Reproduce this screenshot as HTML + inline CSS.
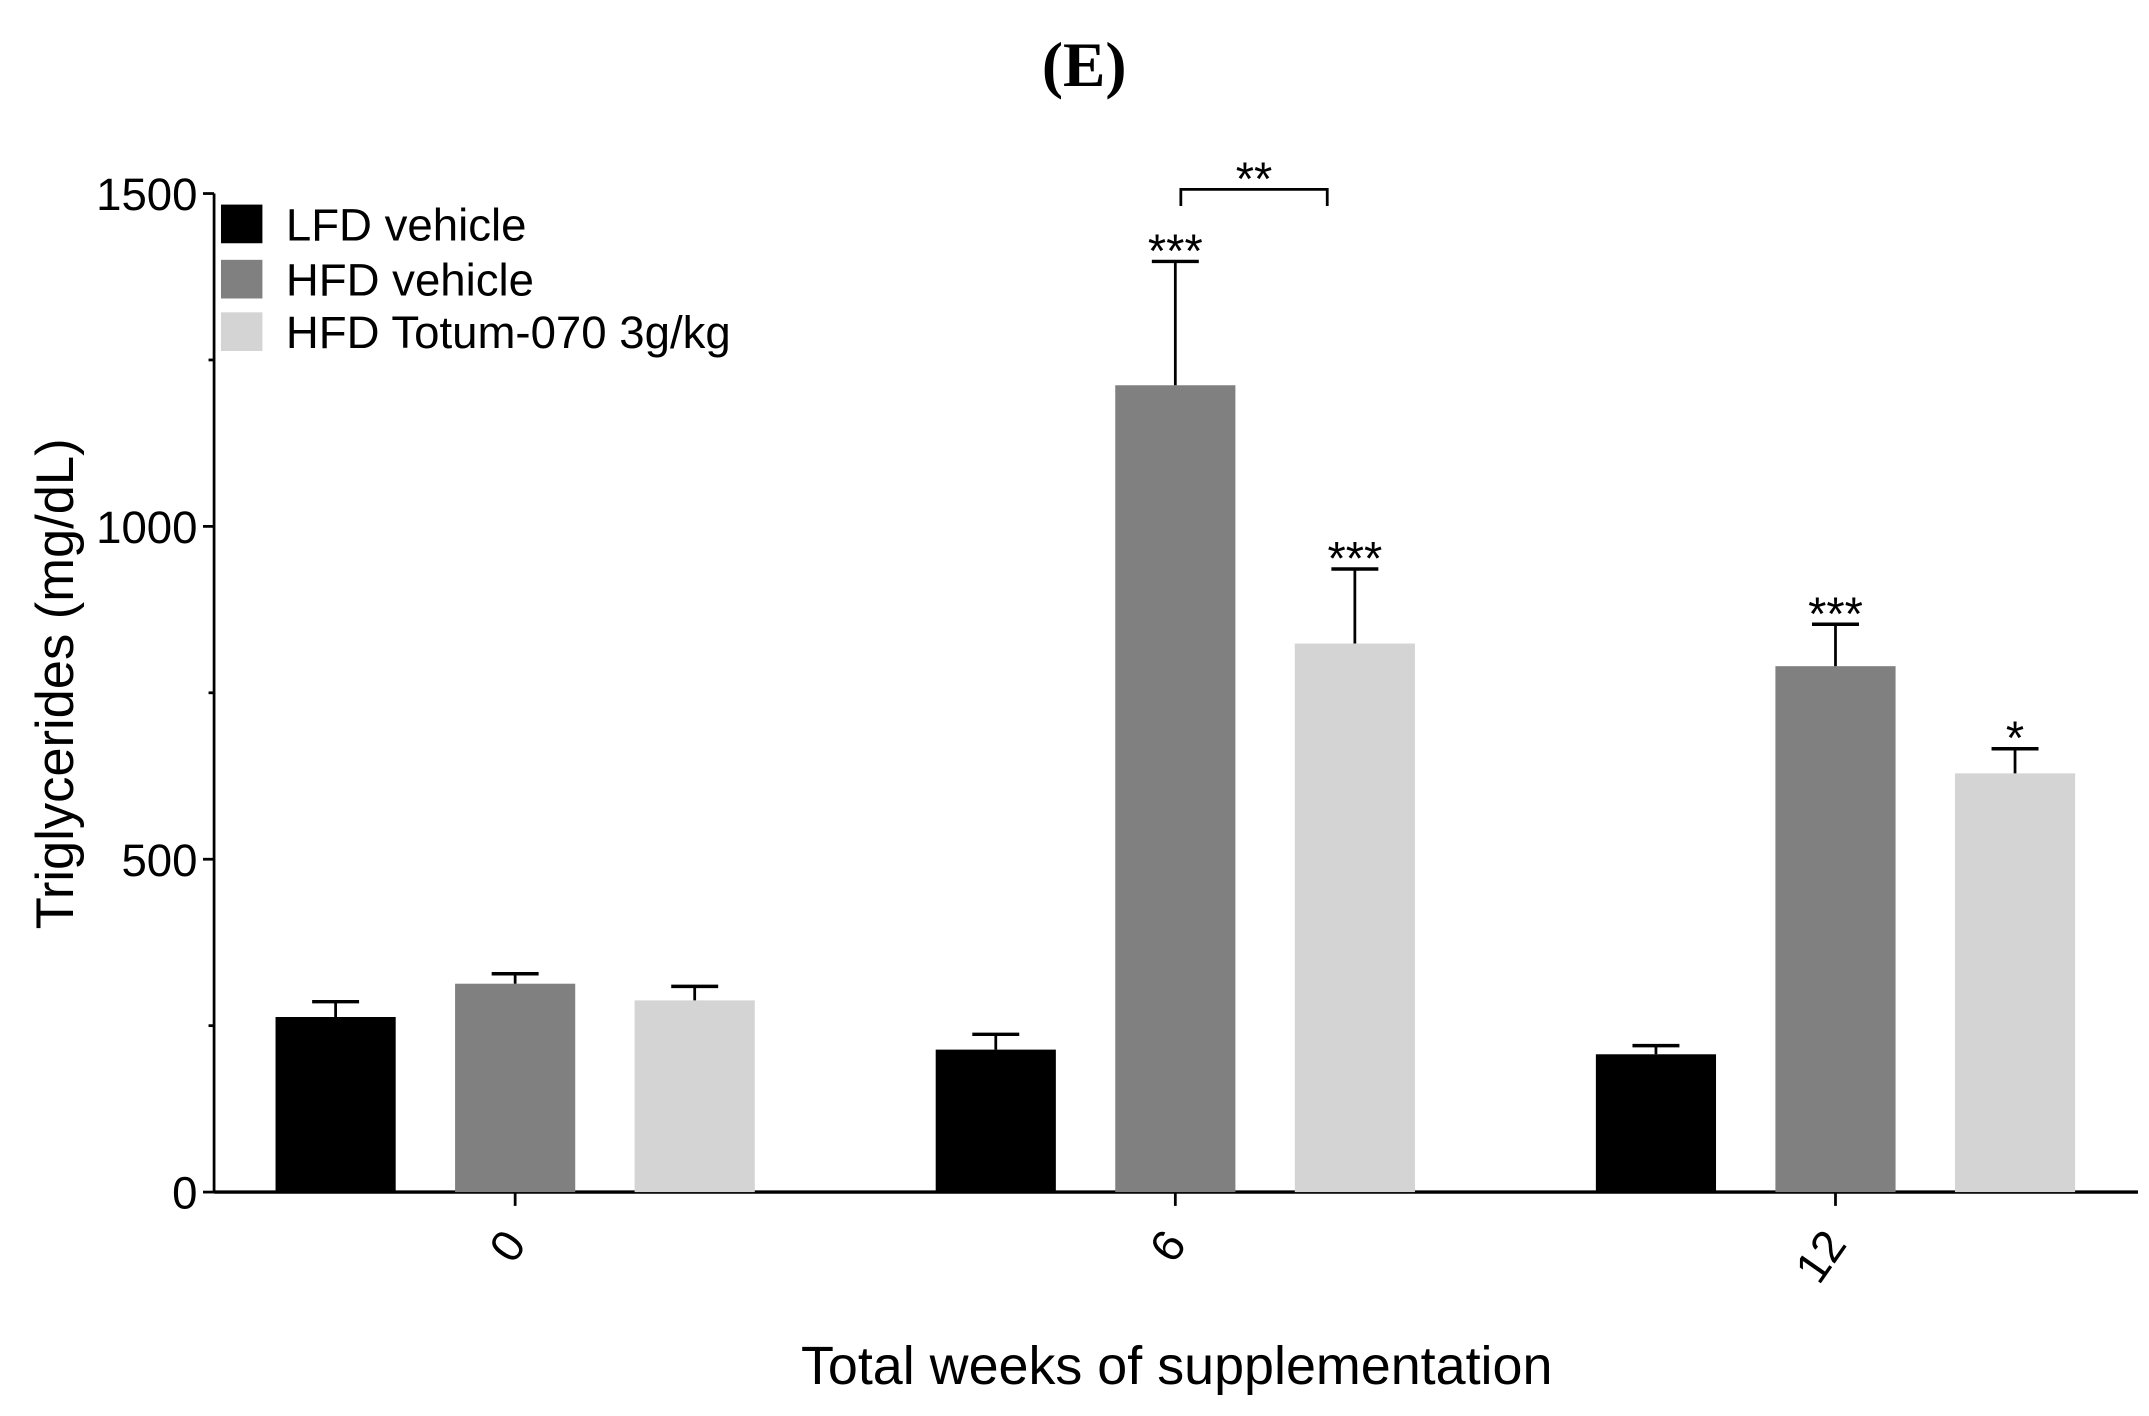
<!DOCTYPE html>
<html><head><meta charset="utf-8"><style>html,body{margin:0;padding:0;background:#fff}svg{display:block}</style></head>
<body>
<svg id="chart" width="2149" height="1416" viewBox="0 0 1556 1025" xmlns="http://www.w3.org/2000/svg" font-family="Liberation Sans, sans-serif">
<text x="785" y="62" text-anchor="middle" font-family="Liberation Serif, serif" font-weight="bold" font-size="46">(E)</text>
<text transform="translate(53,495) rotate(-90)" text-anchor="middle" font-size="38">Triglycerides (mg/dL)</text>
<text x="852" y="1002" text-anchor="middle" font-size="39">Total weeks of supplementation</text>
<g id="axes"></g><g id="bars"></g><g id="legend"></g>
</svg>
<script>
const categories = ["0","6","12"];
const seriesNames = ["LFD vehicle","HFD vehicle","HFD Totum-070 3g/kg"];
const lfdMeans = [263, 214, 207];
const lfdErr = [23, 23, 13];
const hfdMeans = [313, 1212, 790];
const hfdErr = [15, 186, 63];
const totumMeans = [288, 824, 629];
const totumErr = [21, 112, 37];
const yTicks = [0, 500, 1000, 1500];
const yMinorTicks = [250, 750, 1250];
const sigLabels = [["","",""],["","***","***"],["","***","*"]];
const NS="http://www.w3.org/2000/svg";
const colors=["#000000","#808080","#d4d4d4"];
const x0=155,x1=1548,yZero=863,yTop=140;
const y=v=>yZero-(v/1500)*(yZero-yTop);
const catX=i=>373+i*478;
const barW=87, barOff=130;
function mk(tag,attrs,parent,text){const e=document.createElementNS(NS,tag);for(const k in attrs)e.setAttribute(k,attrs[k]);if(text!==undefined)e.textContent=text;parent.appendChild(e);return e;}
const axes=document.getElementById('axes'),bars=document.getElementById('bars'),legend=document.getElementById('legend');
let e=mk('line',{x1:x0,y1:yTop,x2:x0,y2:yZero,stroke:'#000','stroke-width':2},axes);


e=mk('line',{x1:x0,y1:yZero,x2:x1,y2:yZero,stroke:'#000','stroke-width':2.5},axes);


yTicks.forEach(t=>{
  mk('line',{x1:x0-8,y1:y(t),x2:x0,y2:y(t),stroke:'#000','stroke-width':2},axes);
  const l=mk('text',{x:x0-12,y:y(t)+12,'text-anchor':'end','font-size':33},axes,String(t));
  
  
});
yMinorTicks.forEach(t=>mk('line',{x1:x0-4,y1:y(t),x2:x0,y2:y(t),stroke:'#000','stroke-width':2},axes));
categories.forEach((c,i)=>{
  const cx=catX(i);
  mk('line',{x1:cx,y1:yZero,x2:cx,y2:yZero+10,stroke:'#000','stroke-width':2},axes);
  const l=mk('text',{transform:`translate(${cx+9},${yZero+38}) rotate(-55)`,'text-anchor':'end','font-size':33},axes,c);
  
  
});
const means=[lfdMeans,hfdMeans,totumMeans],errs=[lfdErr,hfdErr,totumErr];
categories.forEach((c,i)=>{
  for(let s=0;s<3;s++){
    const cx=catX(i)+(s-1)*barOff;
    const top=y(means[s][i]);
    const r=mk('rect',{x:cx-barW/2,y:top,width:barW,height:yZero-top,fill:colors[s]},bars);
    
    
    const et=y(means[s][i]+errs[s][i]);
    mk('line',{x1:cx,y1:top,x2:cx,y2:et,stroke:'#000','stroke-width':2},bars);
    mk('line',{x1:cx-17,y1:et,x2:cx+17,y2:et,stroke:'#000','stroke-width':2.5},bars);
    if(sigLabels[i][s]){
      const t=mk('text',{x:cx,y:et+4,'text-anchor':'middle','font-size':34},bars,sigLabels[i][s]);
      
      
    }
  }
});
const bx1=catX(1)+4, bx2=catX(1)+barOff-20, by=y(1500)-3;
const br=mk('path',{d:`M${bx1},${by+12} V${by} H${bx2} V${by+12}`,fill:'none',stroke:'#000','stroke-width':2},bars);


const bt=mk('text',{x:(bx1+bx2)/2,y:by+4,'text-anchor':'middle','font-size':34},bars,'**');


const ly=[162,202,240];
seriesNames.forEach((n,s)=>{
  const g=mk('g',{},legend);
  
  
  mk('rect',{x:160,y:ly[s]-14,width:30,height:28,fill:colors[s]},g);
  mk('text',{x:207,y:ly[s]+12,'font-size':33},g,n);
});
</script>
</body></html>
